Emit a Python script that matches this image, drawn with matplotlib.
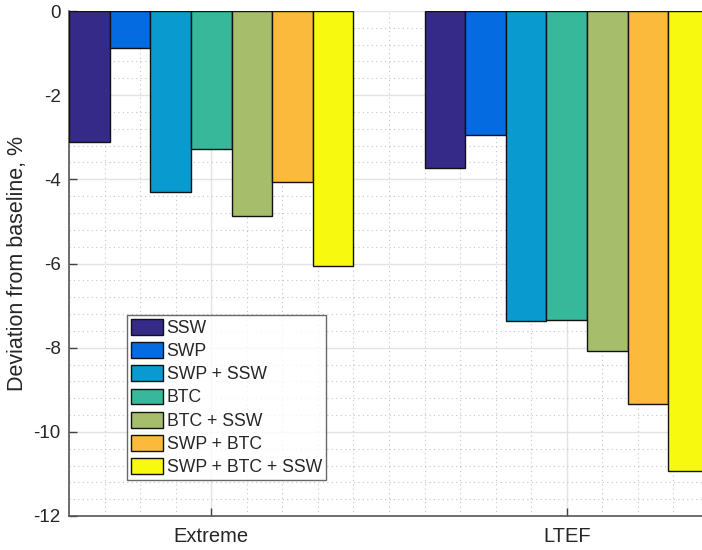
import matplotlib
matplotlib.use("Agg")
import matplotlib.pyplot as plt
import numpy as np
from matplotlib.ticker import MultipleLocator

plt.rcParams['font.family'] = ['Liberation Sans', 'DejaVu Sans']
plt.rcParams['axes.unicode_minus'] = False

groups = ["Extreme", "LTEF"]
series = ["SSW", "SWP", "SWP + SSW", "BTC", "BTC + SSW", "SWP + BTC", "SWP + BTC + SSW"]
extreme_vals = [-3.12, -0.89, -4.31, -3.29, -4.87, -4.06, -6.06]
ltef_vals = [-3.72, -2.95, -7.37, -7.34, -8.08, -9.34, -10.93]
colors = ["#352A87", "#056BE0", "#099BCF", "#38B89B", "#A6BE6B", "#FCBA3C", "#F7F90F"]
yticks = [0, -2, -4, -6, -8, -10, -12]

fig = plt.figure(figsize=(7.02, 5.5), dpi=100)
ax = fig.add_axes([69/702, 34/550, 640/702, 505/550])

data = np.array([extreme_vals, ltef_vals])
n = len(series)
w = 0.8 / n
xg = np.arange(1, len(groups) + 1)
for i in range(n):
    ax.bar(xg + (i - (n - 1) / 2) * w, data[:, i], width=w, color=colors[i],
           edgecolor="#111111", linewidth=1.0, label=series[i], zorder=3)

ax.set_xlim(0.6, 2.4)
ax.set_ylim(-12, 0)
ax.set_xticks(xg)
ax.set_xticklabels(groups, fontsize=14.5, color="#262626")
ax.set_yticks(yticks)
ax.set_yticklabels([str(v) for v in yticks], fontsize=13.5, color="#262626")
ax.xaxis.set_minor_locator(MultipleLocator(0.1))
ax.yaxis.set_minor_locator(MultipleLocator(0.4))
ax.tick_params(which="major", direction="in", length=6, width=1, color="#404040")
ax.tick_params(which="minor", length=0)
ax.tick_params(axis="x", pad=8)
ax.tick_params(axis="y", pad=6)
ax.set_axisbelow(True)
ax.grid(which="major", color="#E3E3E3", linewidth=1.0, linestyle="-", zorder=0)
ax.grid(which="minor", color="#C4C4C4", linewidth=0.8, linestyle=(0, (1, 3)), zorder=0)

for s in ["top", "right"]:
    ax.spines[s].set_visible(False)
for s in ["left", "bottom"]:
    ax.spines[s].set_color("#555555")
    ax.spines[s].set_linewidth(1.2)

ax.set_ylabel("Deviation from baseline, %", fontsize=15.5, color="#262626", labelpad=4)

leg = ax.legend(loc="upper left", bbox_to_anchor=((127 - 69) / 640, (516 - 315) / 505),
                borderaxespad=0, frameon=True, fancybox=False, fontsize=12.7,
                handlelength=1.82, handleheight=1.0, handletextpad=0.2,
                labelspacing=0.30, borderpad=0.22)
leg.get_frame().set_edgecolor("#444444")
leg.get_frame().set_linewidth(1.0)
for t in leg.get_texts():
    t.set_color("#262626")

fig.savefig("out.png", dpi=100)
